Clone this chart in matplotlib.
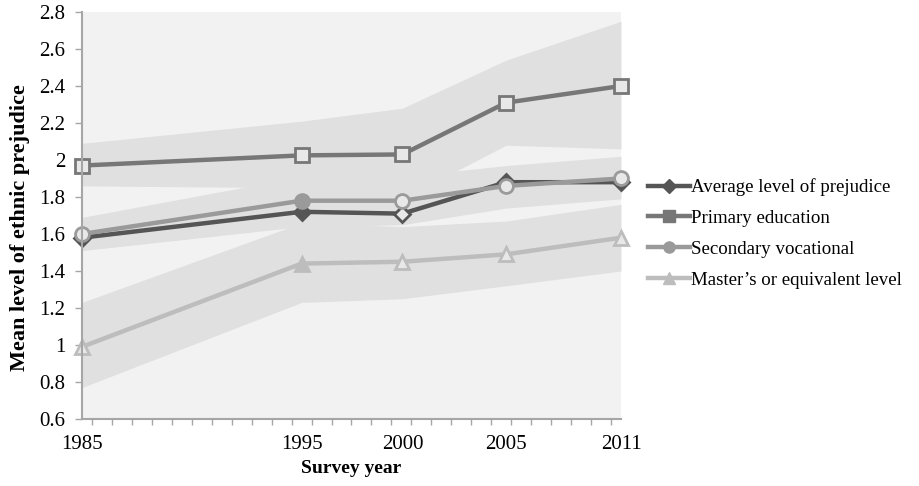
import matplotlib.pyplot as plt
from matplotlib.ticker import FixedLocator

plt.rcParams["font.family"] = ["Liberation Serif", "DejaVu Serif"]

# survey rounds: label and fieldwork time on the date axis
year_labels = ["1985", "1995", "2000", "2005", "2011"]
survey_time = [1984.5, 1995.5, 2000.55, 2005.75, 2011.5]

# mean level of ethnic prejudice
average = [1.58, 1.72, 1.71, 1.88, 1.88]
primary = [1.97, 2.025, 2.03, 2.31, 2.40]
secondary = [1.60, 1.78, 1.78, 1.86, 1.90]
master = [0.99, 1.44, 1.45, 1.49, 1.58]

# confidence bands
primary_lo = [1.86, 1.85, 1.79, 2.08, 2.06]
primary_hi = [2.09, 2.21, 2.28, 2.54, 2.75]
secondary_lo = [1.51, 1.64, 1.65, 1.74, 1.79]
secondary_hi = [1.69, 1.91, 1.91, 1.97, 2.02]
master_lo = [0.77, 1.23, 1.25, 1.32, 1.40]
master_hi = [1.23, 1.66, 1.64, 1.67, 1.76]

BG = "#f2f2f2"
BAND = "#e0e0e0"
HOLLOW = "#e8e8e8"

fig = plt.figure(figsize=(9.2, 4.86), dpi=100)
ax = fig.add_axes([0.0891, 0.1379, 0.5859, 0.8374])
ax.set_facecolor(BG)

for lo, hi in [(primary_lo, primary_hi), (secondary_lo, secondary_hi), (master_lo, master_hi)]:
    ax.fill_between(survey_time, lo, hi, color=BAND, linewidth=0, zorder=1)

series = [
    ("Master’s or equivalent level", master, "#bdbdbd", "^", [0, 1, 0, 0, 0]),
    ("Primary education", primary, "#777777", "s", [0, 0, 0, 0, 0]),
    ("Average level of prejudice", average, "#555555", "D", [1, 1, 0, 1, 1]),
    ("Secondary vocational", secondary, "#9a9a9a", "o", [0, 1, 0, 0, 0]),
]
handles = {}
for z, (name, vals, color, marker, filled) in enumerate(series):
    ax.plot(survey_time, vals, color=color, linewidth=3.2, zorder=3 + z * 2)
    for x, y, f in zip(survey_time, vals, filled):
        ax.plot(x, y, marker=marker, markersize=10 if marker != "D" else 8.5,
                markerfacecolor=color if f else HOLLOW, markeredgecolor=color,
                markeredgewidth=2.0, linestyle="none", zorder=4 + z * 2, clip_on=False)
    handles[name] = plt.Line2D([], [], color=color, linewidth=3.2, marker=marker,
                               markersize=8 if marker != "D" else 7,
                               markerfacecolor=color, markeredgecolor=color)

ax.set_xlim(survey_time[0], survey_time[-1])
ax.set_ylim(0.6, 2.8)
ax.set_yticks([0.6 + 0.2 * i for i in range(12)])
ax.set_yticklabels(["0.6", "0.8", "1", "1.2", "1.4", "1.6", "1.8", "2", "2.2", "2.4", "2.6", "2.8"])
ax.set_xticks(survey_time)
ax.set_xticklabels(year_labels)
ax.xaxis.set_minor_locator(FixedLocator(list(range(1985, 2012))))

for s in ["top", "right"]:
    ax.spines[s].set_visible(False)
for s in ["left", "bottom"]:
    ax.spines[s].set_color("#a6a6a6")
    ax.spines[s].set_linewidth(1.5)
    ax.spines[s].set_zorder(12)

ax.tick_params(axis="y", length=5, width=1, color="#a6a6a6", labelsize=15, pad=7)
ax.tick_params(axis="x", which="major", length=0, labelsize=15, pad=11.5)
ax.tick_params(axis="x", which="minor", length=4, width=1, color="#a6a6a6")

ax.set_xlabel("Survey year", fontsize=14, fontweight="bold", labelpad=4)
ax.set_ylabel("Mean level of ethnic prejudice", fontsize=16, fontweight="bold",
              labelpad=6.5, y=0.47)

order = ["Average level of prejudice", "Primary education",
         "Secondary vocational", "Master’s or equivalent level"]
fig.legend([handles[n] for n in order], order, loc="center left",
           bbox_to_anchor=(0.6957, 0.5195), frameon=False, fontsize=13.6,
           handlelength=2.25, handletextpad=0.05, labelspacing=0.72,
           borderaxespad=0)

fig.savefig("out.png", dpi=100)
plt.close(fig)
